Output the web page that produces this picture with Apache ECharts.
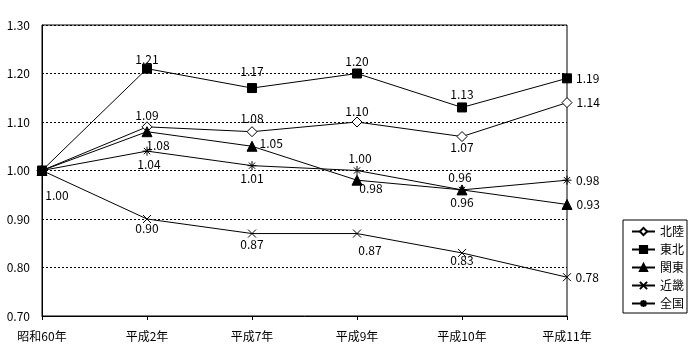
<!DOCTYPE html>
<html><head><meta charset="utf-8">
<script src="https://cdn.jsdelivr.net/npm/echarts@6/dist/echarts.min.js"></script>
<style>html,body{margin:0;padding:0;background:#fff}#c{width:700px;height:360px}</style>
</head><body><div id="c"></div>
<script>
const categories = ['昭和60年','平成2年','平成7年','平成9年','平成10年','平成11年'];
const yTicks = [0.7, 0.8, 0.9, 1.0, 1.1, 1.2, 1.3];
const hokuriku = [1.00, 1.09, 1.08, 1.10, 1.07, 1.14];
const tohoku   = [1.00, 1.21, 1.17, 1.20, 1.13, 1.19];
const kanto    = [1.00, 1.08, 1.05, 0.98, 0.96, 0.93];
const kinki    = [1.00, 0.90, 0.87, 0.87, 0.83, 0.78];
const zenkoku  = [1.00, 1.04, 1.01, 1.00, 0.96, 0.98];

// label placement per point (null = no label)
const labelPos = {
  hokuriku: [null, ['top',[0,1]], ['top',[0,-1]], ['top',[0,2]], ['bottom',[0,-2]], ['right',[3,0]]],
  tohoku:   [null, ['top',[0,3]], ['top',[0,-5]], ['top',[0,0]], ['top',[0,-1]], ['right',[3,0]]],
  kanto:    [null, ['bottom',[11,1]], ['right',[1,-3]], ['bottom',[14,-4]], ['bottom',[0,0]], ['right',[3,0]]],
  kinki:    [['bottom',[15,13]], ['bottom',[0,-2]], ['bottom',[0,-1]], ['bottom',[13,5]], ['bottom',[0,-4]], ['right',[3,0]]],
  zenkoku:  [null, ['bottom',[2,1]], ['bottom',[0,1]], ['top',[3,0]], ['top',[-2,0]], ['right',[3,0]]]
};

const FONT = '"Noto Sans CJK JP", sans-serif';
function build(vals, key) {
  return vals.map((v, i) => {
    const p = labelPos[key][i];
    if (!p) return { value: v, label: { show: false } };
    return { value: v, label: { show: true, position: p[0], offset: p[1] } };
  });
}
function mk(name, vals, key, symbol, size, fill) {
  return {
    name, type: 'line', data: build(vals, key),
    symbol, symbolSize: size, showAllSymbol: true,
    lineStyle: { color: '#000', width: 1 },
    itemStyle: { color: fill, borderColor: '#000', borderWidth: 1 },
    label: { color: '#000', fontSize: 12, fontFamily: FONT, distance: 1,
      formatter: p => p.value.toFixed(2) },
    emphasis: { disabled: true },
    animation: false
  };
}
const chart = echarts.init(document.getElementById('c'), null, { renderer: 'canvas' });
chart.setOption({
  backgroundColor: '#fff',
  animation: false,
  grid: { left: 42, right: 133, top: 25, bottom: 44, show: true, borderColor: '#000', borderWidth: 1, backgroundColor: 'transparent' },
  xAxis: {
    type: 'category', data: categories, boundaryGap: false,
    axisLine: { lineStyle: { color: '#000', width: 1 } },
    axisTick: { show: true, length: 4, lineStyle: { color: '#000' } },
    axisLabel: { color: '#000', fontSize: 12, fontFamily: FONT, margin: 14 },
    splitLine: { show: false }
  },
  yAxis: {
    type: 'value', min: yTicks[0], max: yTicks[yTicks.length - 1], interval: 0.1,
    axisLine: { show: true, lineStyle: { color: '#000', width: 1 } },
    axisTick: { show: false },
    axisLabel: { color: '#000', fontSize: 12, fontFamily: FONT, margin: 12, formatter: v => v.toFixed(2) },
    splitLine: { show: true, lineStyle: { color: '#000', type: [2, 2], width: 1 } }
  },
  legend: {
    orient: 'vertical', left: 623, top: 220, width: 63,
    borderColor: '#000', borderWidth: 1, padding: [5, 3, 3, 8],
    itemWidth: 23, itemHeight: 9, itemGap: 5,
    textStyle: { color: '#000', fontSize: 12, fontFamily: FONT, padding: [0, 0, 0, 0], lineHeight: 13 },
    data: ['北陸','東北','関東','近畿','全国']
  },
  series: [
    mk('北陸', hokuriku, 'hokuriku', 'diamond', 10, '#fff'),
    mk('東北', tohoku, 'tohoku', 'rect', 9, '#000'),
    mk('関東', kanto, 'kanto', 'triangle', 10, '#000'),
    mk('近畿', kinki, 'kinki', 'path://M0,0L10,10M10,0L0,10', 8, '#000'),
    mk('全国', zenkoku, 'zenkoku', 'path://M0,5L10,5M5,0L5,10M1.5,1.5L8.5,8.5M8.5,1.5L1.5,8.5', 9, '#000')
  ]
});
</script></body></html>
